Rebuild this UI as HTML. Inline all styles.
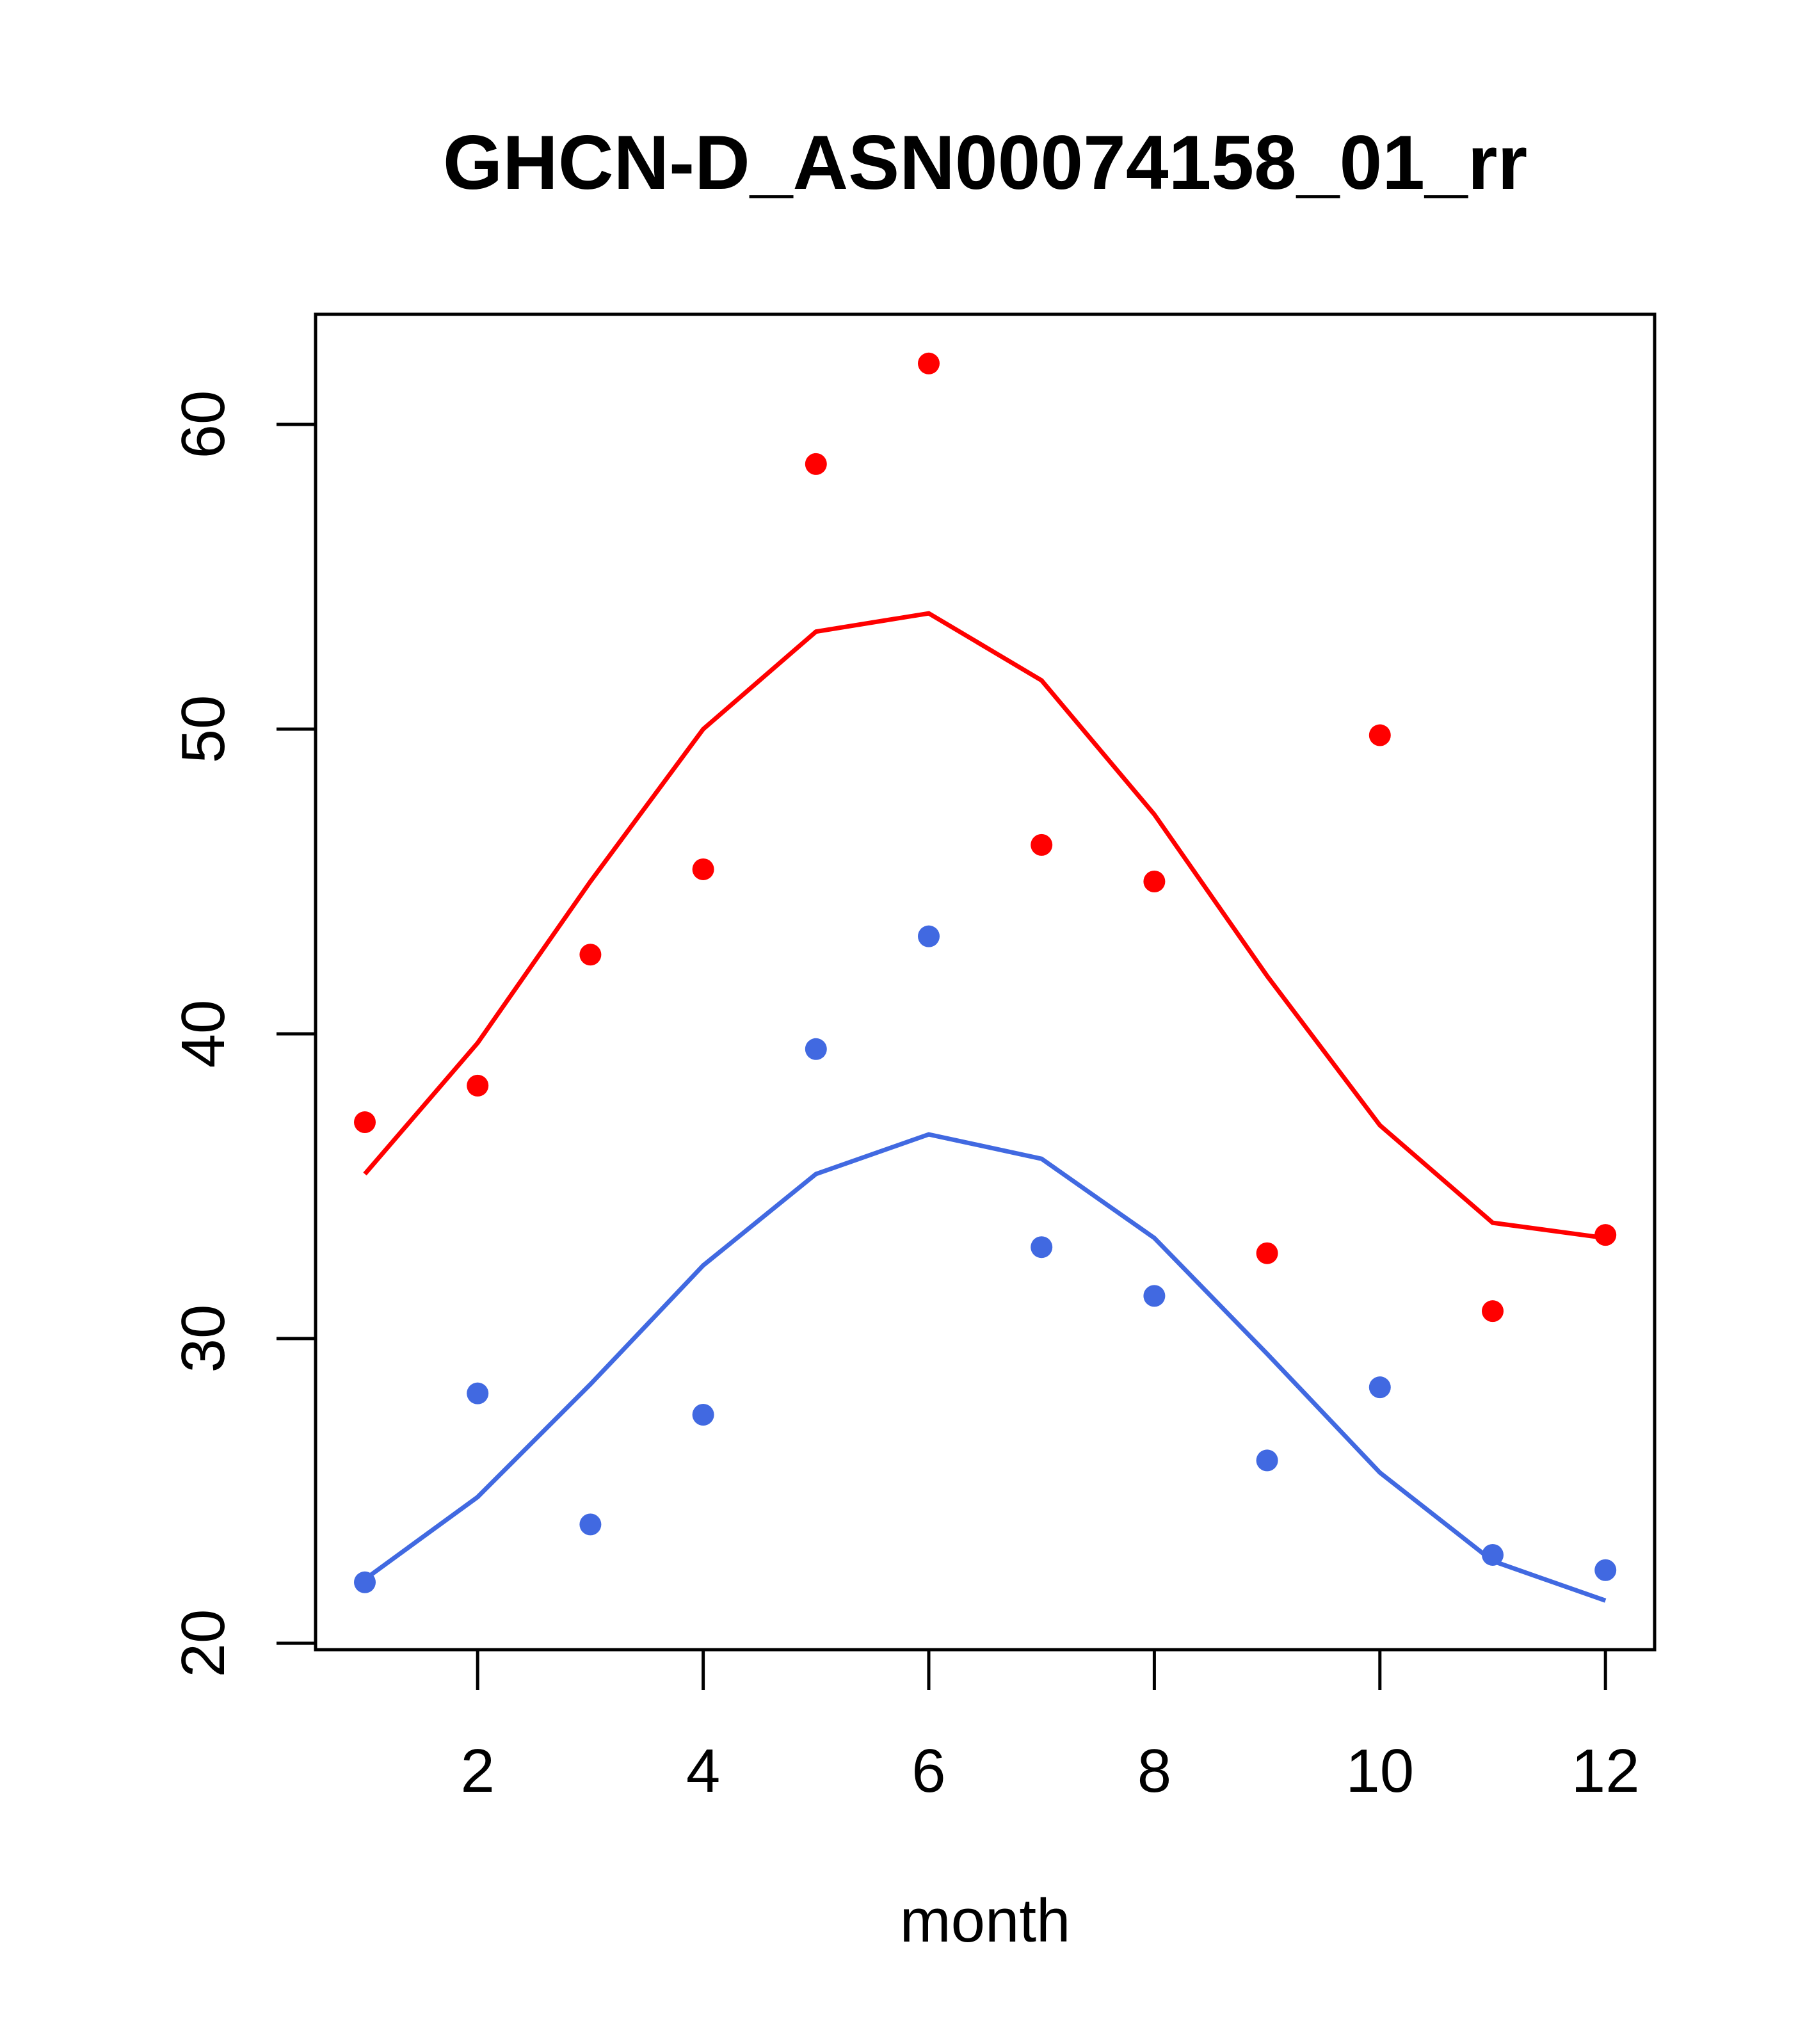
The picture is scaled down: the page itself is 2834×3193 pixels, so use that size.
<!DOCTYPE html>
<html><head><meta charset="utf-8"><style>html,body{margin:0;padding:0;background:#fff}</style></head>
<body>
<svg id="chart" width="2834" height="3188" xmlns="http://www.w3.org/2000/svg" font-family="Liberation Sans, sans-serif">
<rect width="2834" height="3188" fill="#fff"/>
<text x="1539" y="295" text-anchor="middle" font-size="120" font-weight="bold">GHCN-D_ASN00074158_01_rr</text>
<rect x="493" y="491" width="2092" height="2086" fill="none" stroke="#000" stroke-width="5"/>
<text x="1539" y="3033" text-anchor="middle" font-size="96">month</text>
<g id="xaxis"></g><g id="yaxis"></g><g id="series"></g>
</svg>
<script>
const months=[1,2,3,4,5,6,7,8,9,10,11,12];
const redPoints=[37.1,38.3,42.6,45.4,58.7,62.0,46.2,45.0,32.8,49.8,30.9,33.4];
const redLine=[35.4,39.7,45.0,50.0,53.2,53.8,51.6,47.2,41.9,37.0,33.8,33.3];
const bluePoints=[22.0,28.2,23.9,27.5,39.5,43.2,33.0,31.4,26.0,28.4,22.9,22.4];
const blueLine=[22.1,24.8,28.5,32.4,35.4,36.7,35.9,33.3,29.5,25.6,22.7,21.4];
const xTicks=[2,4,6,8,10,12];
const yTicks=[20,30,40,50,60];
const NS="http://www.w3.org/2000/svg";
const xs=v=>570+(v-1)*176.2;
const ys=v=>2567-(v-20)*47.6;
function mk(t,a,p){const e=document.createElementNS(NS,t);for(const k in a)e.setAttribute(k,a[k]);p.appendChild(e);return e;}
const xa=document.getElementById('xaxis'),ya=document.getElementById('yaxis'),se=document.getElementById('series');
mk('line',{x1:xs(2),x2:xs(12),y1:2577,y2:2577,stroke:'#000','stroke-width':5},xa);
xTicks.forEach(v=>{
 const l=mk('line',{x1:xs(v),x2:xs(v),y1:2577,y2:2640,stroke:'#000','stroke-width':5},xa);
 
 
 const t=mk('text',{x:xs(v),y:2799,'text-anchor':'middle','font-size':96},xa);t.textContent=v;
 
 
});
mk('line',{x1:493,x2:493,y1:ys(20),y2:ys(60),stroke:'#000','stroke-width':5},ya);
yTicks.forEach(v=>{
 const l=mk('line',{x1:432,x2:493,y1:ys(v),y2:ys(v),stroke:'#000','stroke-width':5},ya);
 
 
 const t=mk('text',{x:0,y:0,'text-anchor':'middle','font-size':96,transform:`translate(350,${ys(v)}) rotate(-90)`},ya);t.textContent=v;
 
 
});
function line(data,col,name){
 const p=mk('polyline',{points:data.map((v,i)=>xs(months[i])+','+ys(v)).join(' '),fill:'none',stroke:col,'stroke-width':7},se);
 
 
}
function pts(data,col,name){
 data.forEach((v,i)=>{const c=mk('circle',{cx:xs(months[i]),cy:ys(v),r:17,fill:col},se);
 
 });
}
line(redLine,'#ff0000','red-line');
line(blueLine,'#4169e1','blue-line');
pts(redPoints,'#ff0000','red-point');
pts(bluePoints,'#4169e1','blue-point');
</script>
</body></html>
